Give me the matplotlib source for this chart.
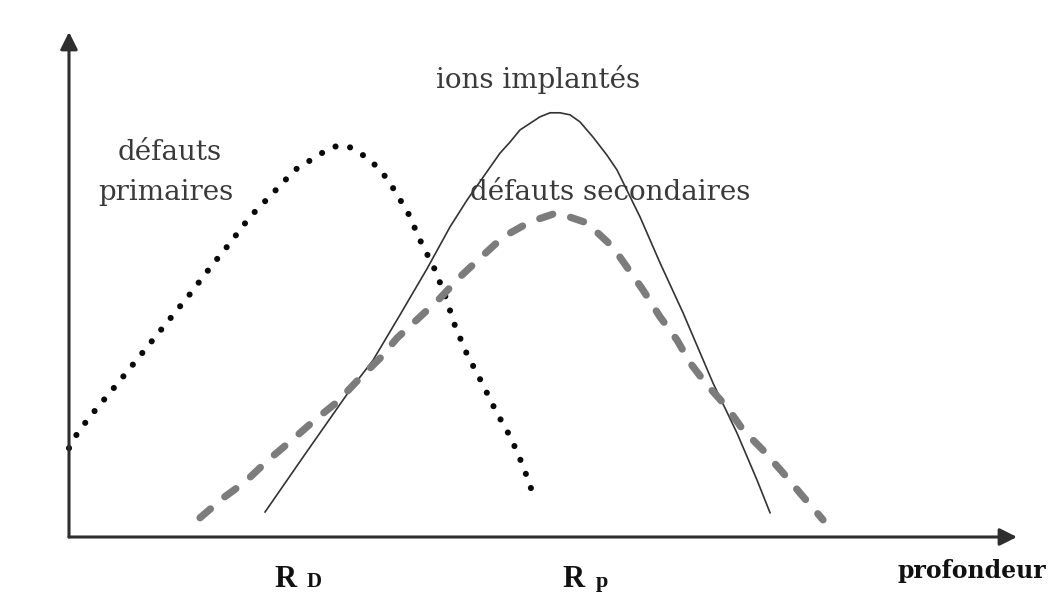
import matplotlib
matplotlib.use("Agg")
import matplotlib.pyplot as plt

# depth (a.u.) and concentration (a.u.) for each profile
primary_depth = [0.0, 0.84, 1.79, 2.85, 4.01, 5.17, 12.76, 14.87, 16.98, 19.09,
                 21.41, 23.84, 27.0, 27.8, 28.8, 29.6, 30.59, 31.96, 33.23, 34.18,
                 35.76, 37.13, 38.61, 39.77, 40.72, 41.98, 43.57, 45.04, 46.62,
                 47.89, 48.95]
primary_conc = [17.6, 20.4, 22.8, 25.3, 27.9, 30.5, 48.1, 53.3, 58.2, 63.4,
                67.9, 72.7, 76.4, 77.2, 77.6, 77.2, 76.2, 74.3, 71.7, 69.1,
                64.2, 58.4, 52.9, 47.3, 41.8, 36.2, 30.5, 24.9, 19.6, 14.1, 8.5]

ions_depth = [20.68, 24.68, 29.64, 32.07, 34.92, 37.76, 40.19, 41.98, 45.46,
              46.52, 47.57, 49.68, 50.74, 51.79, 52.85, 53.90, 55.27, 56.75,
              57.80, 60.23, 62.34, 64.77, 67.93, 70.46, 72.57, 73.95]
ions_conc = [4.95, 15.8, 29.1, 35.0, 44.0, 53.1, 61.4, 66.7, 76.0, 78.2, 80.6,
             83.2, 84.0, 84.0, 83.6, 82.2, 79.2, 75.6, 72.7, 63.4, 54.3, 44.4,
             30.5, 20.6, 11.3, 4.8]

secondary_depth = [13.82, 16.24, 18.57, 20.99, 23.52, 25.95, 28.27, 30.49,
                   32.81, 34.60, 37.03, 39.14, 41.24, 43.35, 45.78, 48.63,
                   51.48, 54.64, 57.38, 60.55, 62.34, 64.14, 65.51, 67.30,
                   69.41, 71.10, 73.21, 75.32, 77.43, 79.54]
secondary_conc = [3.8, 7.7, 10.9, 15.2, 19.2, 23.2, 26.7, 31.1, 35.4, 39.4,
                  43.6, 47.3, 51.5, 55.2, 59.4, 62.4, 64.2, 62.2, 57.4, 48.9,
                  43.6, 39.0, 34.5, 30.1, 25.7, 21.2, 17.2, 12.7, 8.0, 3.4]

W, H = 1051, 596
fig = plt.figure(figsize=(W / 100, H / 100), dpi=100)
ax = fig.add_axes([69 / W, (H - 537) / H, (1017 - 69) / W, (537 - 32) / H])
ax.set_xlim(0, 100)
ax.set_ylim(0, 100)
ax.axis("off")

# axes drawn as arrows
arrow = dict(arrowstyle="-|>", color="#2e2e2e", lw=2.2, mutation_scale=26,
             shrinkA=0, shrinkB=0)
ax.annotate("", xy=(1, 0), xytext=(0, 0), xycoords="axes fraction",
            arrowprops=arrow)
ax.annotate("", xy=(0, 1), xytext=(0, 0), xycoords="axes fraction",
            arrowprops=arrow)

ax.plot(primary_depth, primary_conc, color="#0a0a0a", lw=4.4,
        linestyle=(0, (0.01, 2.45)), dash_capstyle="round", clip_on=False)
ax.plot(ions_depth, ions_conc, color="#333333", lw=1.2,
        solid_joinstyle="round")
ax.plot(secondary_depth, secondary_conc, color="#7c7c7c", lw=5.2,
        linestyle=(0, (1.9, 2.6)), dash_capstyle="round")

serif = ["DejaVu Serif"]
tc = "#3a3a3a"
fs = 20
fig.text(170 / W, 1 - 153 / H, "défauts", family=serif, fontsize=fs,
         color=tc, ha="center", va="center")
fig.text(166 / W, 1 - 192 / H, "primaires", family=serif, fontsize=fs,
         color=tc, ha="center", va="center")
fig.text(538 / W, 1 - 80 / H, "ions implantés", family=serif, fontsize=fs,
         color=tc, ha="center", va="center")
fig.text(610 / W, 1 - 192 / H, "défauts secondaires", family=serif,
         fontsize=fs, color=tc, ha="center", va="center")

bold = dict(family=["Liberation Serif"], weight="bold", color="#111111")
fig.text(274 / W, 1 - 587 / H, "R", fontsize=22, ha="left",
         va="baseline", **bold)
fig.text(307 / W, 1 - 587 / H, "D", fontsize=15, ha="left",
         va="baseline", **bold)
fig.text(562 / W, 1 - 587 / H, "R", fontsize=22, ha="left",
         va="baseline", **bold)
fig.text(596 / W, 1 - 587 / H, "p", fontsize=16, ha="left",
         va="baseline", **bold)
fig.text(897 / W, 1 - 578 / H, "profondeur", family=["DejaVu Serif"],
         weight="bold", fontsize=17, color="#111111", ha="left",
         va="baseline")

fig.savefig("out.png", dpi=100, facecolor="white")
